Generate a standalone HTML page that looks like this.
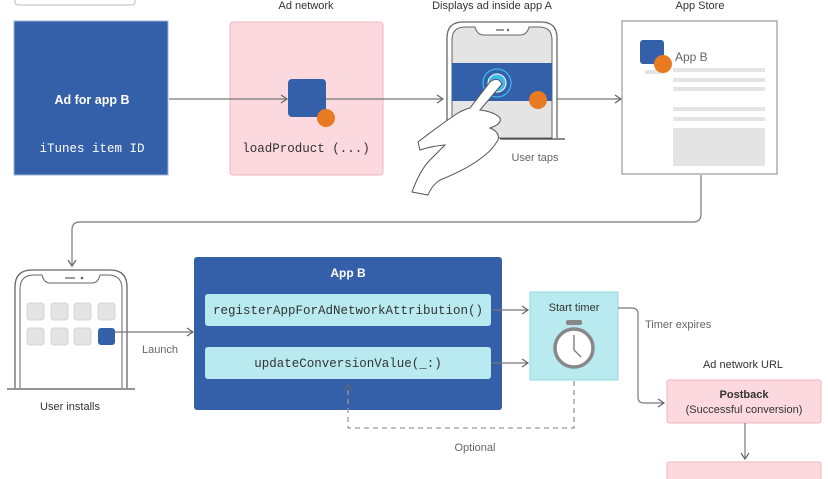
<!DOCTYPE html>
<html><head><meta charset="utf-8"><style>
html,body{margin:0;padding:0;background:#fff}
svg{display:block}
text{font-family:"Liberation Sans",sans-serif;font-size:11px;fill:#333}
.m{font-family:"Liberation Mono",monospace;font-size:12.5px}
.g{fill:#666}
</style></head><body>
<svg width="828" height="479" viewBox="0 0 828 479" xmlns="http://www.w3.org/2000/svg">
<defs>
<marker id="a" markerWidth="10" markerHeight="10" refX="8" refY="5" orient="auto" markerUnits="userSpaceOnUse">
<path d="M2,1 L8,5 L2,9" fill="none" stroke="#666" stroke-width="1.2"/></marker>
</defs>
<rect x="15" y="-6" width="120" height="11" rx="3" fill="#fff" stroke="#bbb"/>
<rect x="14" y="21" width="154" height="154" fill="#345fa9" stroke="#9fb3d8"/>
<text x="92" y="104" text-anchor="middle" style="fill:#fff;font-weight:bold;font-size:12.5px">Ad for app B</text>
<text x="92" y="152" text-anchor="middle" class="m" style="fill:#fff">iTunes item ID</text>
<text x="306" y="9" text-anchor="middle">Ad network</text>
<rect x="230" y="22" width="153" height="153" rx="3" fill="#fbd9de" stroke="#f2b5c0"/>
<line x1="169" y1="99" x2="287" y2="99" stroke="#777" stroke-width="1.2" marker-end="url(#a)"/>
<line x1="326" y1="99" x2="443" y2="99" stroke="#777" stroke-width="1.2" marker-end="url(#a)"/>
<rect x="288" y="79" width="38" height="38" rx="4" fill="#345fa9"/>
<circle cx="326" cy="118" r="9" fill="#e87b22"/>
<text x="306" y="152" text-anchor="middle" class="m">loadProduct (...)</text>
<text x="492" y="9" text-anchor="middle">Displays ad inside app A</text>
<path d="M447,138 V38 Q447,22 463,22 H541 Q557,22 557,38 V138" fill="#fff" stroke="#666" stroke-width="1.3"/>
<path d="M452,138 V40 Q452,27 465,27 H475 Q477,35 484,35 H520 Q527,35 529,27 H539 Q552,27 552,40 V138 Z" fill="#e4e4e4" stroke="#666" stroke-width="1"/>
<line x1="496" y1="30" x2="504" y2="30" stroke="#666" stroke-width="1.3"/><circle cx="508" cy="30" r="1.2" fill="#666"/>
<rect x="452" y="63" width="100" height="38" fill="#345fa9"/>
<circle cx="538" cy="100" r="9" fill="#e87b22"/>
<circle cx="497" cy="83" r="14" fill="none" stroke="#3cb8ea" stroke-width="1.3"/>
<circle cx="497" cy="83" r="9" fill="#3cb8ea" stroke="#fff" stroke-width="1"/>
<line x1="500" y1="139" x2="565" y2="139" stroke="#444" stroke-width="1.3"/>
<path d="M412,192 Q420,170 430,160 Q440,150 445,145 Q432,146 420,150 L418,142 Q440,125 455,115 Q462,110 470,108 L490,82 Q498,76 502,84 L480,110 Q495,112 500,118 Q502,124 490,128 Q500,132 498,140 Q492,150 485,155 Q470,168 440,180 Q432,185 428,195 Z" fill="#fff" stroke="#555" stroke-width="1"/>
<text x="535" y="161" text-anchor="middle" class="g">User taps</text>
<line x1="557" y1="99" x2="621" y2="99" stroke="#777" stroke-width="1.2" marker-end="url(#a)"/>
<text x="700" y="9" text-anchor="middle">App Store</text>
<rect x="622" y="21" width="155" height="153" fill="#fff" stroke="#999" stroke-width="1.2"/>
<rect x="640" y="40" width="24" height="24" rx="3" fill="#345fa9"/>
<rect x="645" y="70" width="20" height="4" fill="#e4e4e4"/>
<circle cx="663" cy="64" r="9" fill="#e87b22"/>
<text x="675" y="61" style="font-size:12px" class="g">App B</text>
<g fill="#e4e4e4"><rect x="673" y="68" width="92" height="4"/><rect x="673" y="78" width="92" height="4"/><rect x="673" y="87" width="92" height="4"/><rect x="673" y="107" width="92" height="4"/><rect x="673" y="117" width="92" height="4"/><rect x="673" y="128" width="92" height="38"/></g>
<path d="M701,175 V214 Q701,222 693,222 H80 Q72,222 72,230 V266" fill="none" stroke="#777" stroke-width="1.2" marker-end="url(#a)"/>
<path d="M15,388 V287 Q15,270 32,270 H110 Q127,270 127,287 V388" fill="#fff" stroke="#666" stroke-width="1.3"/>
<path d="M20,388 V289 Q20,275 34,275 H42 Q44,283 50,283 H92 Q98,283 100,275 H108 Q122,275 122,289 V388" fill="none" stroke="#666" stroke-width="1"/>
<line x1="65" y1="278" x2="75" y2="278" stroke="#666" stroke-width="1.3"/><circle cx="82" cy="278" r="1.3" fill="#666"/>
<line x1="7" y1="389" x2="135" y2="389" stroke="#555" stroke-width="1.3"/>
<g fill="#e4e4e4" stroke="#d4d4d4"><rect x="27" y="303" width="17" height="17" rx="3"/><rect x="51" y="303" width="17" height="17" rx="3"/><rect x="74" y="303" width="17" height="17" rx="3"/><rect x="98" y="303" width="17" height="17" rx="3"/><rect x="27" y="328" width="17" height="17" rx="3"/><rect x="51" y="328" width="17" height="17" rx="3"/><rect x="74" y="328" width="17" height="17" rx="3"/></g>
<rect x="98" y="328" width="17" height="17" rx="3" fill="#345fa9"/>
<text x="70" y="410" text-anchor="middle">User installs</text>
<line x1="115" y1="332" x2="193" y2="332" stroke="#777" stroke-width="1.2" marker-end="url(#a)"/>
<text x="160" y="353" text-anchor="middle" class="g">Launch</text>
<rect x="194" y="257" width="308" height="153" rx="3" fill="#345fa9"/>
<text x="348" y="277" text-anchor="middle" style="fill:#fff;font-weight:bold;font-size:12px">App B</text>
<rect x="205" y="294" width="286" height="32" rx="3" fill="#b8eaf0"/>
<rect x="205" y="347" width="286" height="32" rx="3" fill="#b8eaf0"/>
<text x="348" y="314" text-anchor="middle" class="m">registerAppForAdNetworkAttribution()</text>
<text x="348" y="367" text-anchor="middle" class="m">updateConversionValue(_:)</text>
<line x1="492" y1="310" x2="528" y2="310" stroke="#777" stroke-width="1.2" marker-end="url(#a)"/>
<line x1="492" y1="363" x2="528" y2="363" stroke="#777" stroke-width="1.2" marker-end="url(#a)"/>
<rect x="530" y="292" width="88" height="88" fill="#b8eaf0" stroke="#8fd8e4"/>
<text x="574" y="311" text-anchor="middle">Start timer</text>
<rect x="566" y="320" width="16" height="5" rx="2" fill="#888"/>
<circle cx="574" cy="348" r="19" fill="#fff" stroke="#888" stroke-width="3.5"/>
<path d="M574,335 V350 L581,357" fill="none" stroke="#777" stroke-width="1.3"/>
<path d="M574,381 V428 H348 V385" fill="none" stroke="#999" stroke-width="1.3" stroke-dasharray="5,4" marker-end="url(#a)"/>
<text x="475" y="451" text-anchor="middle" class="g">Optional</text>
<path d="M618,308 H632 Q638,308 638,314 V397 Q638,403 644,403 H664" fill="none" stroke="#777" stroke-width="1.2" marker-end="url(#a)"/>
<text x="645" y="328" class="g">Timer expires</text>
<text x="743" y="368" text-anchor="middle">Ad network URL</text>
<rect x="667" y="380" width="154" height="43" rx="2" fill="#fbd9de" stroke="#f2b5c0"/>
<text x="744" y="398" text-anchor="middle" style="font-weight:bold">Postback</text>
<text x="744" y="413" text-anchor="middle">(Successful conversion)</text>
<line x1="745" y1="423" x2="745" y2="459" stroke="#777" stroke-width="1.2" marker-end="url(#a)"/>
<rect x="667" y="462" width="154" height="30" rx="2" fill="#fbd9de" stroke="#f2b5c0"/>
</svg>
</body></html>
